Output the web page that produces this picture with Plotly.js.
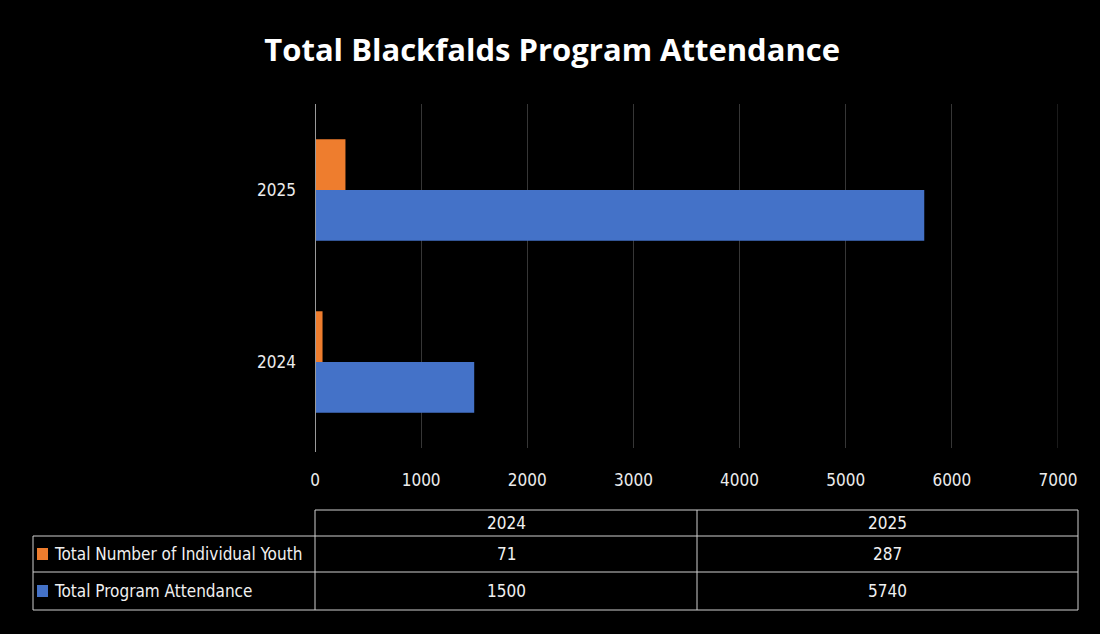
<!DOCTYPE html>
<html>
<head>
<meta charset="utf-8">
<script src="https://cdn.plot.ly/plotly-3.0.1.min.js"></script>
<style>html,body{margin:0;padding:0;background:#000;}#chart{width:1100px;height:634px;}</style>
</head>
<body>
<div id="chart"></div>
<script>
const years = ['2024', '2025'];
const seriesNames = ['Total Number of Individual Youth', 'Total Program Attendance'];
const youth = [71, 287];
const attendance = [1500, 5740];
const tickVals = [0, 1000, 2000, 3000, 4000, 5000, 6000, 7000];

const W = 1100, H = 634;
const L = 315, R = 1058, T = 104, B = 448;
const px = x => (x - L) / (R - L);
const py = y => (B - y) / (B - T);
const FONT = '"Liberation Sans Narrow", "DejaVu Sans Condensed", "Open Sans", sans-serif';
const ORANGE = '#EE7D2E', BLUE = '#4472C8';
const LINE = '#cfcfcf';
const GRID = '#363636';

const traces = [
  {type: 'bar', orientation: 'h', name: seriesNames[1], y: years, x: attendance,
   marker: {color: BLUE}, hoverinfo: 'x+name'},
  {type: 'bar', orientation: 'h', name: seriesNames[0], y: years, x: youth,
   marker: {color: ORANGE}, hoverinfo: 'x+name'}
];

// table geometry (pixels)
const colX = [L, 697, 1078];
const labelLeft = 33;
const rowY = [510, 536, 572, 610];
const shapes = [];
const annotations = [];
const ln = (x0, y0, x1, y1) => shapes.push({type: 'line', xref: 'paper', yref: 'paper',
  x0: px(x0), y0: py(y0), x1: px(x1), y1: py(y1), line: {color: LINE, width: 1}});
ln(colX[0], rowY[0], colX[2], rowY[0]);
ln(labelLeft, rowY[1], colX[2], rowY[1]);
ln(labelLeft, rowY[2], colX[2], rowY[2]);
ln(labelLeft, rowY[3], colX[2], rowY[3]);
ln(labelLeft, rowY[1], labelLeft, rowY[3]);
colX.forEach(x => ln(x, rowY[0], x, rowY[3]));

const txt = (x, y, t, anchor) => annotations.push({xref: 'paper', yref: 'paper', x: px(x), y: py(y),
  text: t, showarrow: false, xanchor: anchor || 'center', yanchor: 'middle',
  font: {family: FONT, size: 17, color: '#f0f0f0'}});
years.forEach((yr, i) => {
  const cx = (colX[i] + colX[i + 1]) / 2;
  txt(cx, (rowY[0] + rowY[1]) / 2, yr);
  txt(cx, (rowY[1] + rowY[2]) / 2, String(youth[i]));
  txt(cx, (rowY[2] + rowY[3]) / 2, String(attendance[i]));
});
const legendColors = [ORANGE, BLUE];
seriesNames.forEach((n, i) => {
  const cy = (rowY[i + 1] + rowY[i + 2]) / 2;
  shapes.push({type: 'rect', xref: 'paper', yref: 'paper', x0: px(37), x1: px(48),
    y0: py(cy - 6), y1: py(cy + 6), fillcolor: legendColors[i], line: {width: 0}});
  txt(52, cy, n, 'left');
});
// gridline at the right end of the axis
shapes.push({type: 'line', xref: 'x', yref: 'paper', x0: tickVals[tickVals.length - 1],
  x1: tickVals[tickVals.length - 1], y0: 0, y1: 1, line: {color: GRID, width: 1}, layer: 'below'});
// zero axis line
shapes.push({type: 'line', xref: 'x', yref: 'paper', x0: 0, x1: 0, y0: py(452), y1: 1,
  line: {color: '#9a9a9a', width: 2}, layer: 'above'});

const layout = {
  width: W, height: H,
  paper_bgcolor: '#000', plot_bgcolor: '#000',
  margin: {l: L, r: W - R, t: T, b: H - B, pad: 0},
  showlegend: false,
  barmode: 'group', bargap: 0.41, bargroupgap: 0,
  title: {text: '<b>Total Blackfalds Program Attendance</b>', x: 0.502, xanchor: 'center',
    y: 1 - 50 / H, yanchor: 'middle',
    font: {family: '"Open Sans", sans-serif', size: 31, color: '#ffffff'}},
  xaxis: {range: [0, 7000], tickvals: tickVals, ticktext: tickVals.map(String),
    showgrid: true, gridcolor: GRID, gridwidth: 1, zeroline: false,
    showline: false, ticks: '', ticklen: 0, ticklabelstandoff: 20,
    tickfont: {family: FONT, size: 17, color: '#ececec'}, fixedrange: true},
  yaxis: {type: 'category', categoryarray: years, range: [-0.5, 1.5],
    showgrid: false, zeroline: false, showline: false, ticks: '', ticklabelstandoff: 18,
    tickfont: {family: FONT, size: 17, color: '#ececec'}, fixedrange: true},
  shapes: shapes,
  annotations: annotations
};

Plotly.newPlot('chart', traces, layout, {displayModeBar: false, staticPlot: true});
</script>
</body>
</html>
